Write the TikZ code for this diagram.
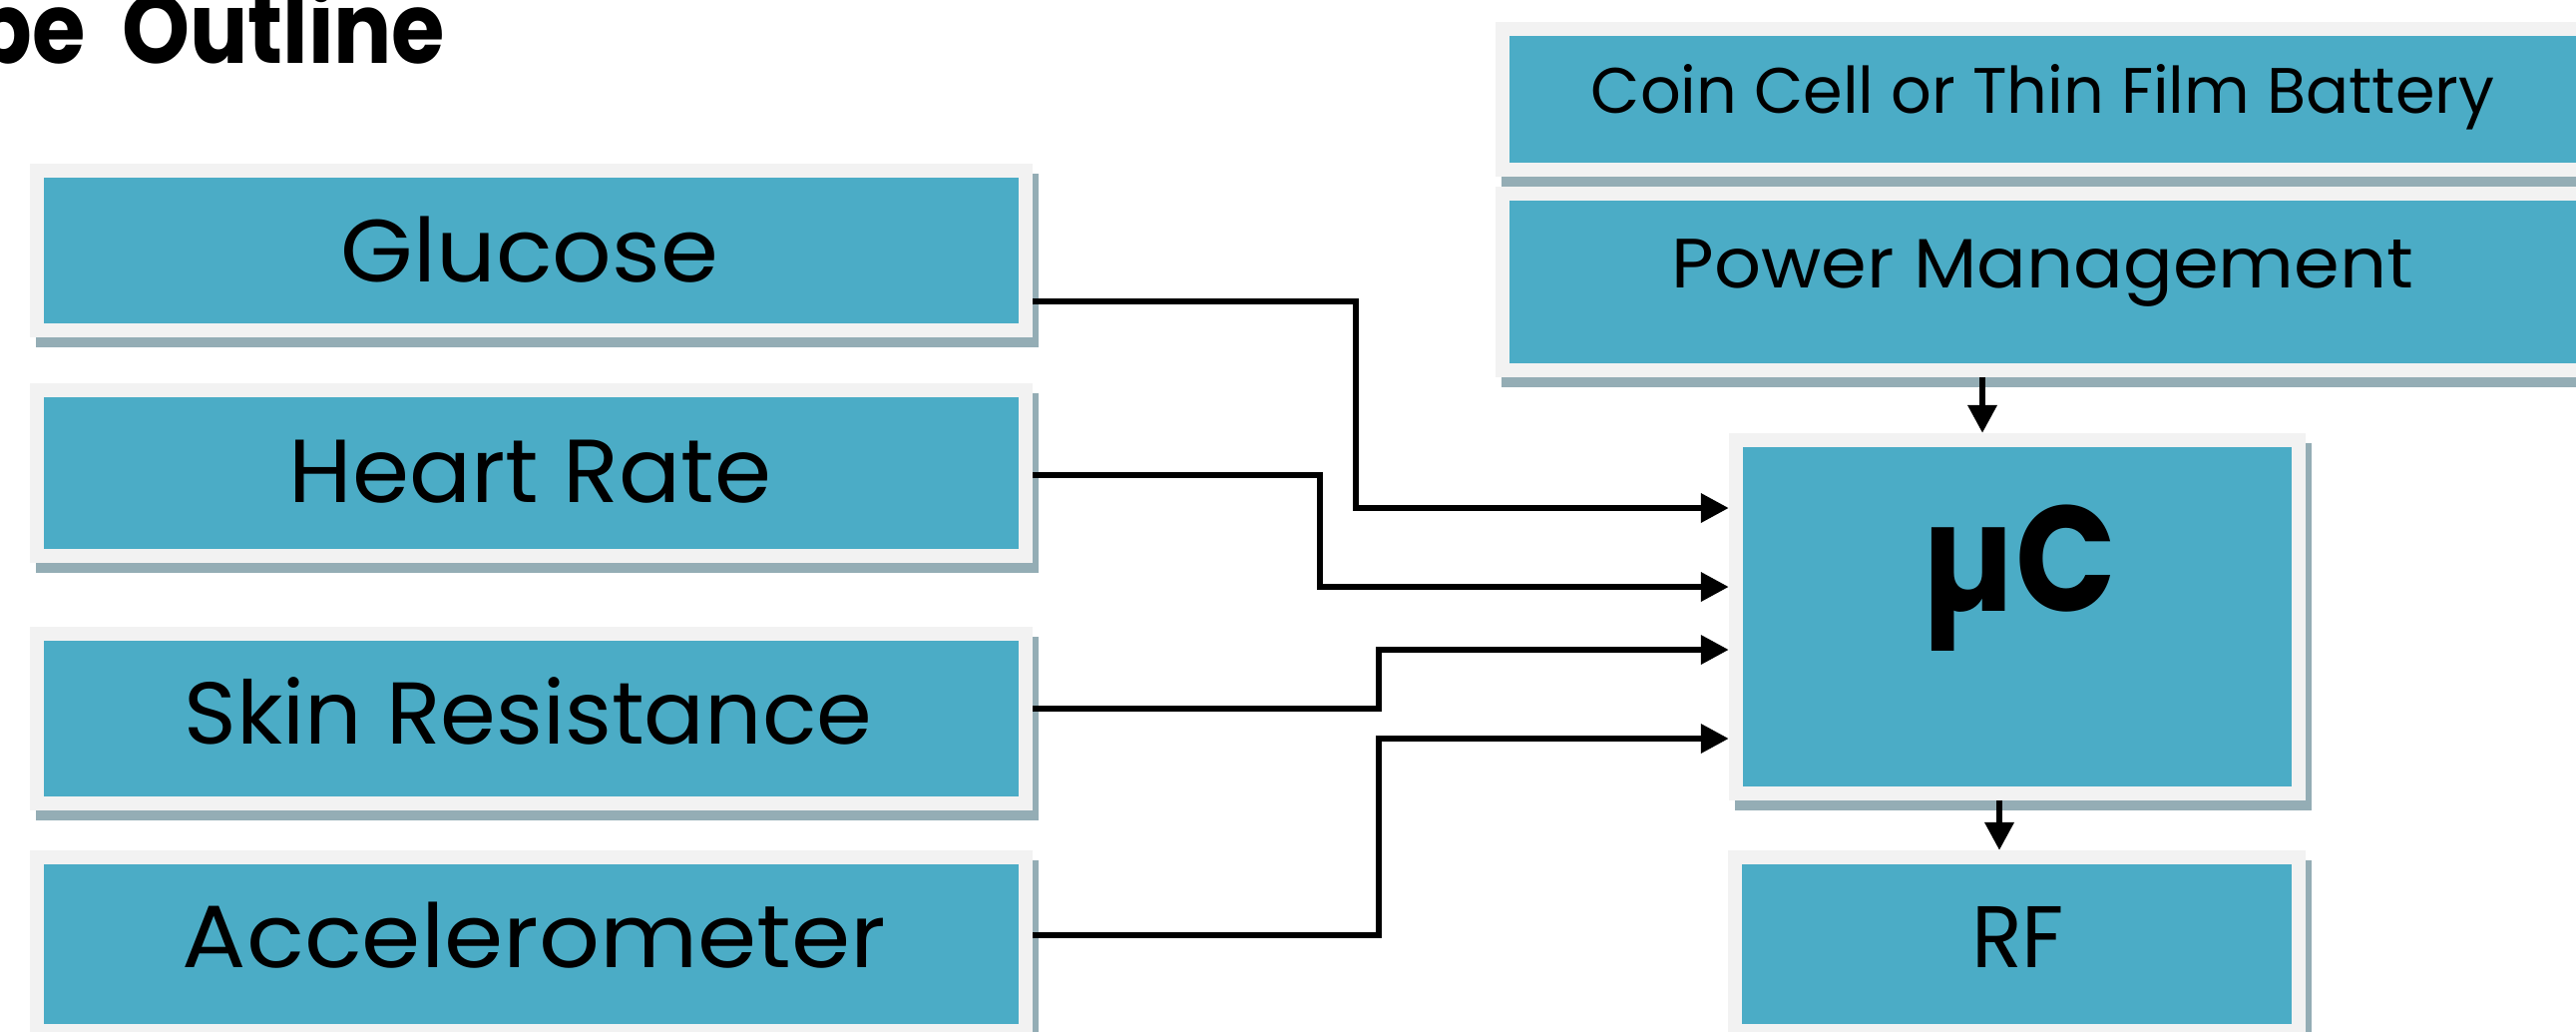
\documentclass[tikz,border=0pt]{standalone}
\usepackage{fontspec}
\setmainfont{Poppins}
\usetikzlibrary{arrows.meta,backgrounds,calc}
\definecolor{boxblue}{HTML}{4BACC6}
\definecolor{framec}{HTML}{F2F2F2}
\definecolor{shadowc}{HTML}{94ADB5}
\newcommand\fitt[3]{\resizebox{#1}{\height}{\fontsize{#2}{#2}\selectfont #3}}
\begin{document}
\begin{tikzpicture}[x=0.01cm,y=-0.01cm,
  blk/.style={draw=framec, fill=boxblue, line width=0.14cm, inner sep=0pt, rectangle},
  lbl/.style={anchor=base, inner sep=0pt, text=black},
  conn/.style={line width=0.065cm, -{Triangle[length=0.28cm,width=0.28cm]}},
  shd/.style={fill=shadowc}]
\useasboundingbox (0,0) rectangle (2582,1033);
% title
\node[anchor=base east, inner sep=0pt] (title) at (447,63) {\scalebox{0.965}[1.1]{\fontsize{25.5pt}{25.5pt}\selectfont\bfseries pe\hspace{0.19cm} Outline}};
% left boxes
\node[blk, minimum width=9.91cm, minimum height=1.60cm] (glu) at (532.5,251) {};
\node[blk, minimum width=9.91cm, minimum height=1.66cm] (hr) at (532.5,474) {};
\node[blk, minimum width=9.91cm, minimum height=1.70cm] (skin) at (532.5,720) {};
\node[blk, minimum width=9.91cm, minimum height=1.74cm] (acc) at (532.5,946) {};
% right boxes
\node[blk, minimum width=10.94cm, minimum height=1.41cm] (coin) at (2053,99.5) {};
\node[blk, minimum width=10.94cm, minimum height=1.77cm] (pow) at (2053,282.5) {};
\node[blk, minimum width=5.64cm, minimum height=3.54cm] (muc) at (2022,618) {};
\node[blk, minimum width=5.65cm, minimum height=1.74cm] (rf) at (2021.5,946) {};
% shadows
\begin{scope}[on background layer]
  \foreach \n in {glu,hr,skin,acc,coin,pow,muc,rf}{
    \fill[shd] ($(\n.north west)+(6,10)$) rectangle ($(\n.south east)+(6,10)$);
  }
\end{scope}
% texts
\node[lbl] (tglu) at (531,282) {\fitt{3.78cm}{25.2pt}{Glucose}};
\node[lbl] (thr) at (531.5,503) {\fitt{4.83cm}{25.5pt}{Heart Rate}};
\node[lbl] (tskin) at (529.5,745) {\fitt{6.89cm}{25pt}{Skin Resistance}};
\node[lbl] (tacc) at (535.5,969) {\fitt{7.05cm}{25.2pt}{Accelerometer}};
\node[lbl] (tcoin) at (2047.5,113) {\fitt{9.05cm}{18.3pt}{Coin Cell or Thin Film Battery}};
\node[lbl] (tpow) at (2047.5,288) {\fitt{7.43cm}{19.9pt}{Power Management}};
\node[lbl] (tmuc) at (2024,612) {\fitt{1.94cm}{42.7pt}{\bfseries µC}};
\node[lbl] (trf) at (2022.5,969) {\fitt{0.93cm}{24.9pt}{RF}};
% connectors
\draw[conn] (glu.east |- 0,302) -| (1359,509) -- (muc.west |- 0,509);
\draw[conn] (hr.east |- 0,476) -| (1323,588) -- (muc.west |- 0,588);
\draw[conn] (skin.east |- 0,710) -| (1382,651) -- (muc.west |- 0,651);
\draw[conn] (acc.east |- 0,937) -| (1382,740) -- (muc.west |- 0,740);
\draw[conn] (pow.south -| 1987,0) -- (muc.north -| 1987,0);
\draw[conn] (muc.south -| 2004,0) -- (rf.north -| 2004,0);
\end{tikzpicture}
\end{document}
